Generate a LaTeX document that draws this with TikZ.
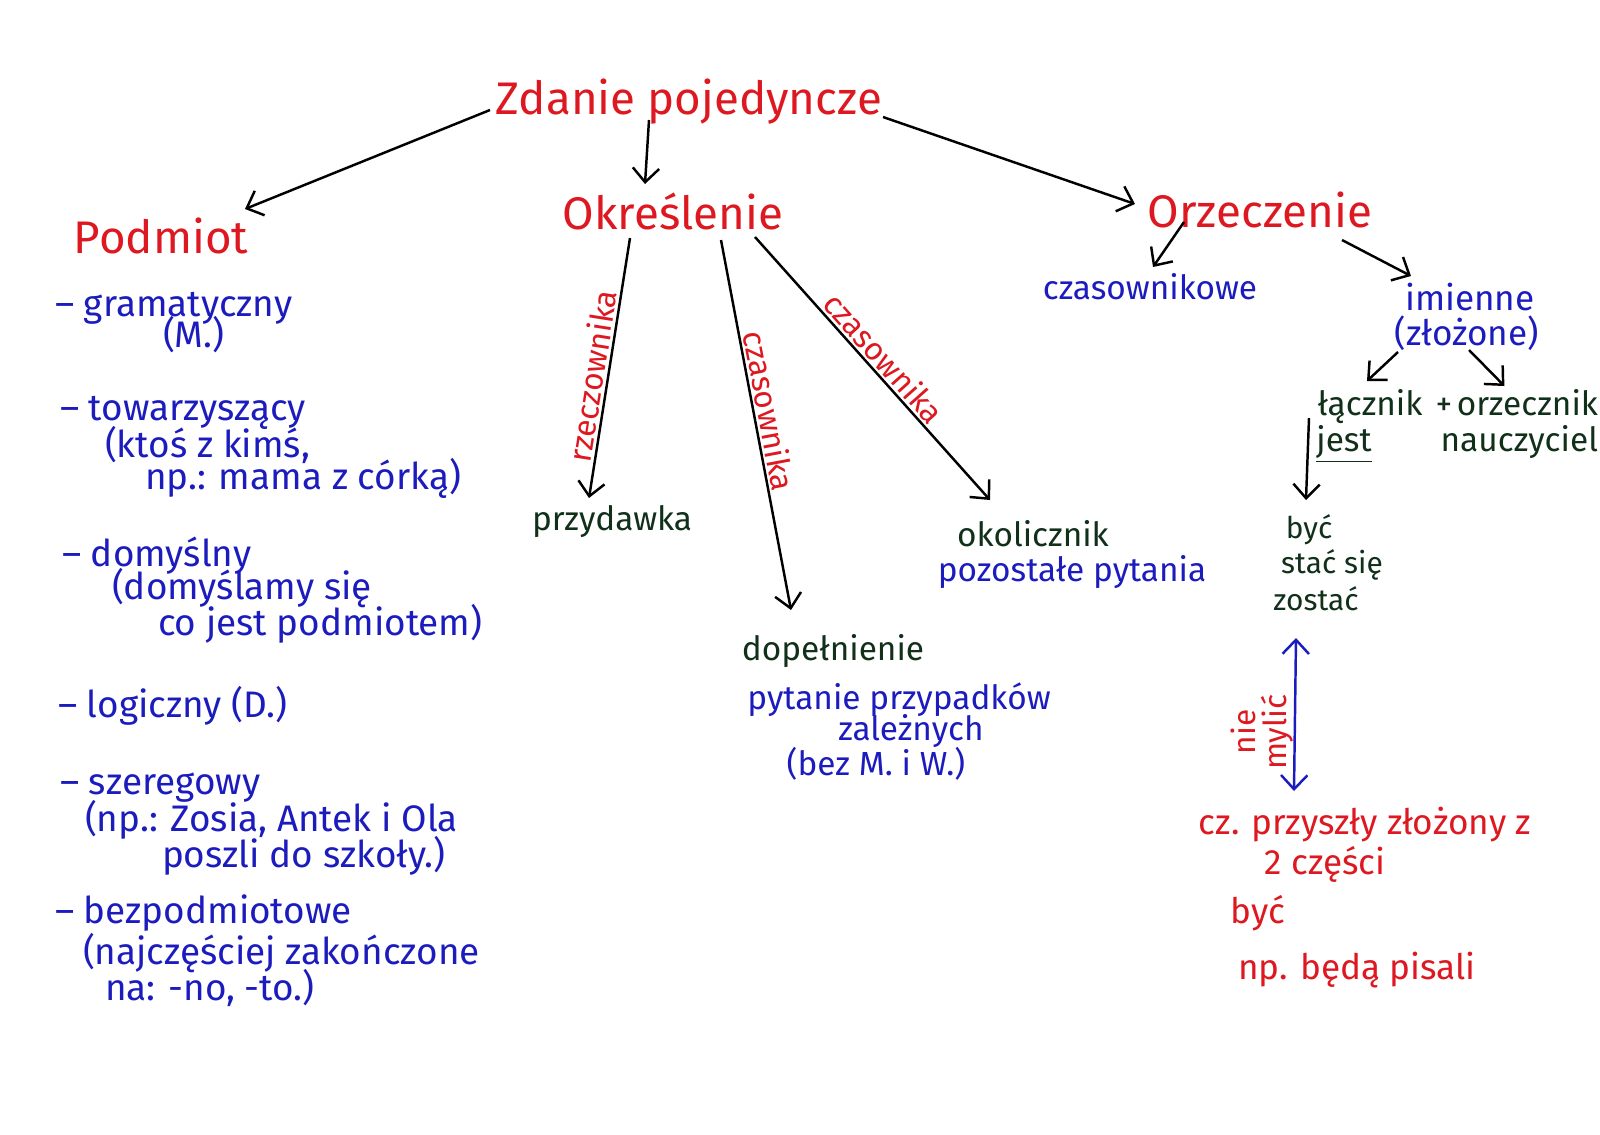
\documentclass[tikz,border=0pt]{standalone}
\usepackage{fontspec}
\setmainfont{Fira Sans}
\usetikzlibrary{arrows.meta,calc}
\definecolor{cred}{RGB}{222,24,32}
\definecolor{cblue}{RGB}{28,28,190}
\definecolor{cgreen}{RGB}{16,48,26}
\tikzset{vtip/.tip={Straight Barb[length=8pt,width=15pt,line width=1.4pt]}}
\begin{document}
\begin{tikzpicture}[x=0.02cm,y=-0.02cm,
  every node/.style={inner sep=0pt, outer sep=0pt},
  big/.style={text=cred, font=\fontsize{26}{30}\selectfont, anchor=mid},
  term/.style={text=cgreen, font=\fontsize{19}{22}\selectfont, anchor=mid},
  small/.style={text=cgreen, font=\fontsize{17}{19}\selectfont, anchor=mid},
  note/.style={text=cblue, font=\fontsize{19}{22}\selectfont, anchor=mid},
  li/.style={text=cblue, font=\fontsize{21}{24}\selectfont, anchor=mid west},
  rnote/.style={text=cred, font=\fontsize{20}{24}\selectfont, anchor=mid},
  elab/.style={text=cred, font=\fontsize{18}{20}\selectfont, sloped},
  arr/.style={draw=black, line width=1.4pt, -{vtip}},
  darr/.style={draw=cblue, line width=1.4pt, {vtip}-{vtip}},
]
\useasboundingbox (0,0) rectangle (1600,1134);
\fill[white] (0,0) rectangle (1600,1134);

% main nodes
\node[big] (zd)  at (689,110) {Zdanie pojedyncze};
\node[big] (pod) at (161,249) {Podmiot};
\node[big] (okr) at (673,225) {Określenie};
\node[big] (orz) at (1260,223) {Orzeczenie};

% Podmiot list
\node[li] (l1)  at (55,312)  {– gramatyczny};
\node[li] (l1b) at (163,343) {(M.)};
\node[li] (l2)  at (60,416)  {– towarzyszący};
\node[li] (l2b) at (105,453) {(ktoś z kimś,};
\node[li] (l2c) at (145,485) {np.: mama z córką)};
\node[li] (l3)  at (62,562)  {– domyślny};
\node[li] (l3b) at (112,595) {(domyślamy się};
\node[li] (l3c) at (158,631) {co jest podmiotem)};
\node[li] (l4)  at (58,713)  {– logiczny (D.)};
\node[li] (l5)  at (60,790)  {– szeregowy};
\node[li] (l5b) at (85,827)  {(np.: Zosia, Antek i Ola};
\node[li] (l5c) at (162,863) {poszli do szkoły.)};
\node[li] (l6)  at (55,919)  {– bezpodmiotowe};
\node[li] (l6b) at (83,960)  {(najczęściej zakończone};
\node[li] (l6c) at (105,996) {na: -no, -to.)};

% Okreslenie branch
\node[term] (prz)  at (612,526) {przydawka};
\node[term] (dop)  at (833,656) {dopełnienie};
\node[note] (dop2) at (899,705) {pytanie przypadków};
\node[note] (dop3) at (911,736) {zależnych};
\node[note] (dop4) at (876,771) {(bez M. i W.)};
\node[term] (oko)  at (1033,542) {okolicznik};
\node[note] (oko2) at (1072,577) {pozostałe pytania};

% Orzeczenie branch
\node[note] (czw) at (1150,295) {czasownikowe};
\node[note, font=\fontsize{20}{24}\selectfont] (imi) at (1470,306) {imienne};
\node[note, font=\fontsize{20}{24}\selectfont] (zlo) at (1467,341) {(złożone)};
\node[term] (lac) at (1370,411) {łącznik};
\node[term] (plus) at (1444,411) {+};
\node[term,anchor=mid east] (orc) at (1598,411) {orzecznik};
\node[term] (jest) at (1344,447) {\underline{jest}};
\node[term,anchor=mid east] (nau) at (1598,447) {nauczyciel};
\node[small] (byc) at (1309,534) {być};
\node[small] (stac) at (1332,569) {stać się};
\node[small] (zost) at (1316,606) {zostać};
\node[text=cred, font=\fontsize{18}{18}\selectfont, anchor=mid, rotate=90, align=center] (nm) at (1282,732) {nie\\mylić};
\node[rnote] (cz)  at (1365,830) {cz. przyszły złożony z};
\node[rnote] (cz2) at (1325,870) {2 części};
\node[rnote] (cz3) at (1258,919) {być};
\node[rnote] (cz4) at (1357,975) {np. będą pisali};

% connectors
\draw[arr] ($(zd.mid)+(-199,0)$) -- ($(pod.mid)+(84,-40)$);
\draw[arr] ($(zd.mid)+(-40,10)$) -- ($(okr.mid)+(-28,-41)$);
\draw[arr] ($(zd.mid)+(194,7)$) -- ($(orz.mid)+(-125,-19)$);

\draw[arr] ($(okr.mid)+(-43,13)$) -- node[elab, pos=0.54, above=2pt] {rzeczownika} ($(prz.mid)+(-23,-28)$);
\draw[arr] ($(okr.mid)+(48,15)$) -- node[elab, pos=0.47, above=2pt] {czasownika} ($(dop.mid)+(-42,-46)$);
\draw[arr] ($(okr.mid)+(82,12)$) -- node[elab, pos=0.5, above=2pt] {czasownika} ($(oko.mid)+(-43,-42)$);

\draw[arr] ($(orz.mid)+(-76,-1)$) -- ($(czw.mid)+(3,-28)$);
\draw[arr] ($(orz.mid)+(82,17)$) -- ($(imi.mid)+(-59,-30)$);
\draw[arr] ($(zlo.mid)+(-69,11)$) -- ($(lac.mid)+(-3,-30)$);
\draw[arr] ($(zlo.mid)+(2,9)$) -- ($(orc.mid)+(-23,-25)$);
\draw[arr] ($(lac.mid)+(-61,7)$) -- ($(byc.mid)+(-3,-34)$);
\draw[darr] ($(zost.mid)+(-20,32)$) -- ($(cz.mid)+(-71,-39)$);
\end{tikzpicture}
\end{document}
